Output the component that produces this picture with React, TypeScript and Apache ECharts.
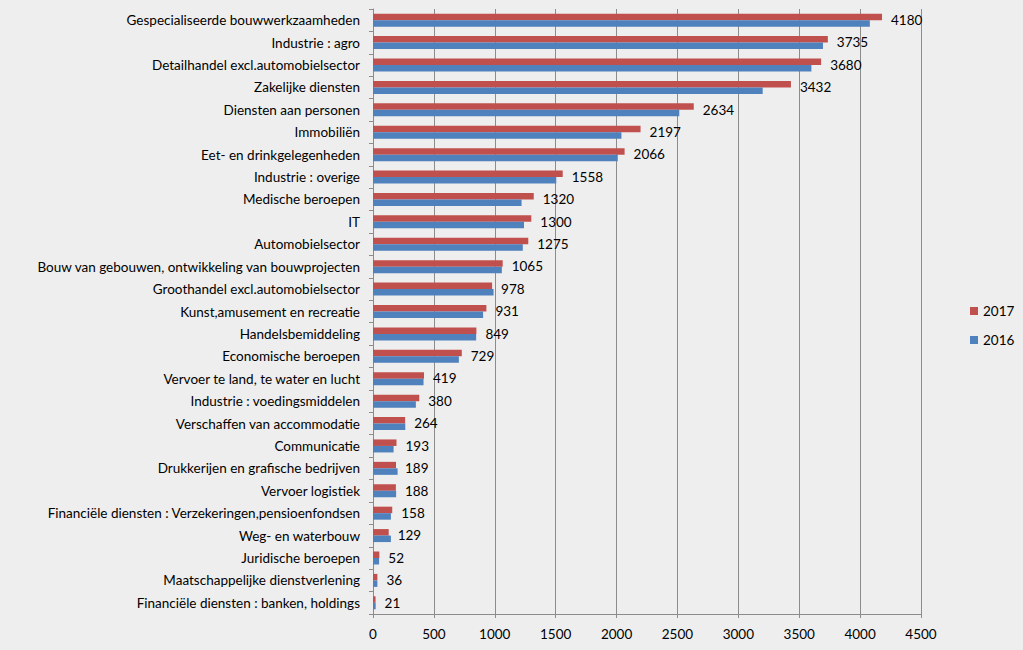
import React, { useEffect, useRef } from "react";
import * as echarts from "echarts";

const categories: string[] = [
  "Gespecialiseerde bouwwerkzaamheden",
  "Industrie : agro",
  "Detailhandel excl.automobielsector",
  "Zakelijke diensten",
  "Diensten aan personen",
  "Immobiliën",
  "Eet- en drinkgelegenheden",
  "Industrie : overige",
  "Medische beroepen",
  "IT",
  "Automobielsector",
  "Bouw van gebouwen, ontwikkeling van bouwprojecten",
  "Groothandel excl.automobielsector",
  "Kunst,amusement en recreatie",
  "Handelsbemiddeling",
  "Economische beroepen",
  "Vervoer te land, te water en lucht",
  "Industrie : voedingsmiddelen",
  "Verschaffen van accommodatie",
  "Communicatie",
  "Drukkerijen en grafische bedrijven",
  "Vervoer logistiek",
  "Financiële diensten : Verzekeringen,pensioenfondsen",
  "Weg- en waterbouw",
  "Juridische beroepen",
  "Maatschappelijke dienstverlening",
  "Financiële diensten : banken, holdings",
];

const values2017: number[] = [
  4180, 3735, 3680, 3432, 2634, 2197, 2066, 1558, 1320, 1300, 1275, 1065, 978,
  931, 849, 729, 419, 380, 264, 193, 189, 188, 158, 129, 52, 36, 21,
];

const values2016: number[] = [
  4080, 3695, 3600, 3200, 2515, 2040, 2010, 1505, 1220, 1240, 1230, 1058, 990,
  904, 847, 705, 415, 352, 265, 169, 202, 190, 147, 147, 50, 36, 22,
];

const xTicks = { min: 0, max: 4500, interval: 500 };

export default function App() {
  const ref = useRef<HTMLDivElement>(null);
  useEffect(() => {
    if (!ref.current) return;
    const chart = echarts.init(ref.current, undefined, { renderer: "svg" });
    const font = "Lato, 'Open Sans', sans-serif";
    chart.setOption({
      animation: false,
      backgroundColor: "#eeeeee",
      textStyle: { fontFamily: font },
      legend: {
        orient: "vertical",
        left: 965,
        top: 299,
        itemWidth: 8,
        itemHeight: 8,
        itemGap: 15,
        icon: "rect",
        data: ["2017", "2016"],
        textStyle: { fontFamily: font, fontSize: 13.5, color: "#000" },
      },
      grid: { left: 373, right: 102, top: 9, bottom: 36, containLabel: false },
      xAxis: {
        type: "value",
        min: xTicks.min,
        max: xTicks.max,
        interval: xTicks.interval,
        axisLine: { show: true, lineStyle: { color: "#8c8c8c", width: 1 } },
        axisTick: { show: true, length: 4, lineStyle: { color: "#8c8c8c" } },
        axisLabel: {
          color: "#000",
          fontSize: 13.5,
          fontFamily: font,
          margin: 13,
          formatter: (v: number) => String(v),
        },
        splitLine: { show: true, lineStyle: { color: "#8c8c8c", width: 1 } },
      },
      yAxis: {
        type: "category",
        data: categories,
        inverse: true,
        axisLine: { show: true, lineStyle: { color: "#8c8c8c", width: 1 } },
        axisTick: { show: true, length: 4, lineStyle: { color: "#8c8c8c" } },
        axisLabel: { color: "#000", fontSize: 13.5, fontFamily: font, margin: 13 },
      },
      series: [
        {
          name: "2017",
          type: "bar",
          data: values2017,
          itemStyle: { color: "#c0504d" },
          barGap: "0%",
          barCategoryGap: "42%",
          label: {
            show: true,
            position: "right",
            distance: 9,
            offset: [0, 3],
            color: "#000",
            fontSize: 13.5,
            fontFamily: font,
          },
        },
        {
          name: "2016",
          type: "bar",
          data: values2016,
          itemStyle: { color: "#4f81bd" },
          barGap: "0%",
          barCategoryGap: "42%",
        },
      ],
    });
    return () => chart.dispose();
  }, []);
  return (
    <div
      ref={ref}
      style={{ position: "fixed", left: 0, top: 0, width: 1023, height: 650 }}
    />
  );
}
